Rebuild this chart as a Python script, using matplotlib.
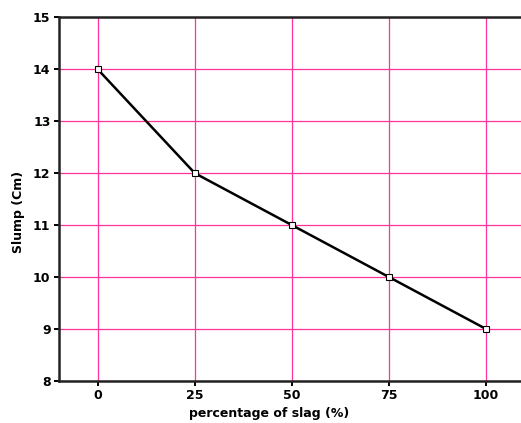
import matplotlib

matplotlib.use("Agg")

import matplotlib.pyplot as plt

slag_pct = [0, 25, 50, 75, 100]
slump_cm = [14, 12, 11, 10, 9]
x_ticks = [0, 25, 50, 75, 100]
y_ticks = [8, 9, 10, 11, 12, 13, 14, 15]

plt.rcParams["font.family"] = ["DejaVu Sans"]
plt.rcParams["font.weight"] = "bold"

W, H = 521, 423
fig = plt.figure(figsize=(W / 100, H / 100), dpi=100)
left, right = 59, 524.5
top, bottom = 17.5, 380.7
ax = fig.add_axes([left / W, 1 - bottom / H, (right - left) / W, (bottom - top) / H])

ax.plot(slag_pct, slump_cm, color="black", linewidth=1.8, marker="s",
        markersize=4.5, markerfacecolor="white", markeredgecolor="black",
        markeredgewidth=0.8, zorder=3)

ax.set_xlim(-10, 110)
ax.set_ylim(8, 15)
ax.set_xticks(x_ticks)
ax.set_yticks(y_ticks)
ax.grid(True, color="#ff3399", linewidth=0.9)
ax.set_axisbelow(True)

for side in ("left", "bottom", "top"):
    ax.spines[side].set_linewidth(1.8)
    ax.spines[side].set_color("#222222")
ax.spines["right"].set_visible(False)

ax.tick_params(direction="out", length=3.6, width=1.4, labelsize=9, pad=2.5)
for lab in ax.get_xticklabels() + ax.get_yticklabels():
    lab.set_fontweight("bold")

ax.set_xlabel("percentage of slag (%)", fontsize=9, fontweight="bold")
ax.set_ylabel("Slump (Cm)", fontsize=9, fontweight="bold")
ax.xaxis.set_label_coords(0.4505, -0.072)
ax.yaxis.set_label_coords(-0.073, 0.466)

fig.savefig("out.png", dpi=100)
